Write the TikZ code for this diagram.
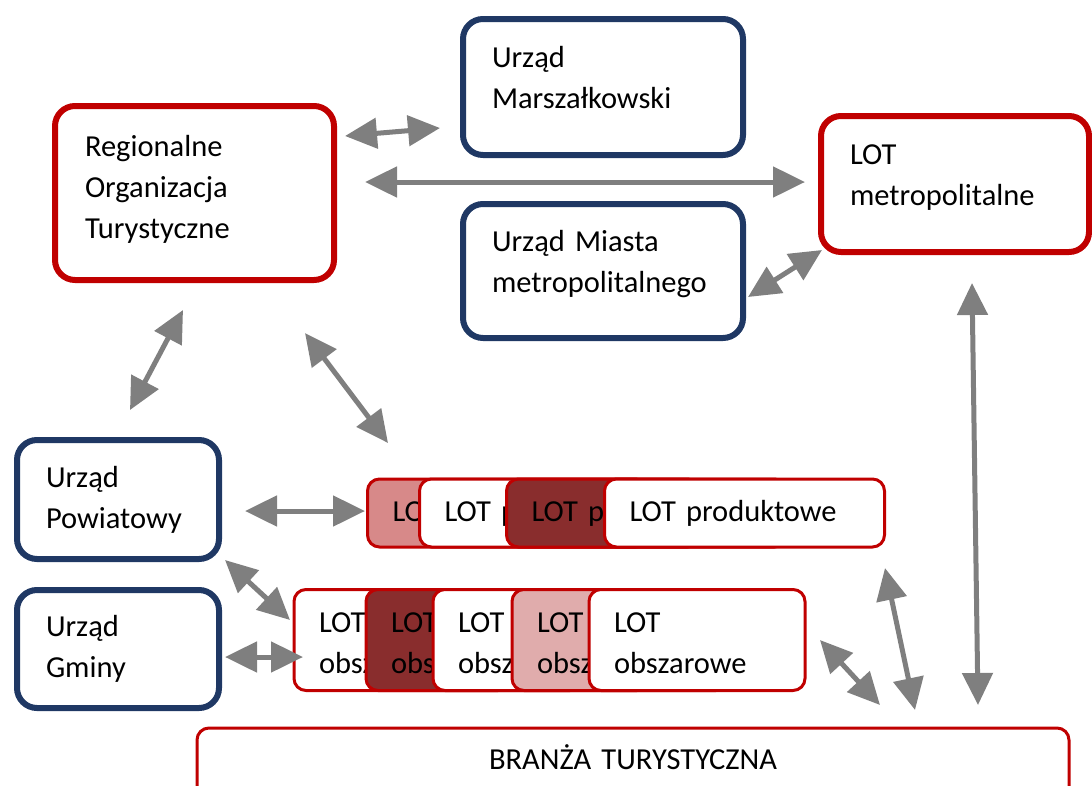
\documentclass[tikz,border=0pt]{standalone}
\usepackage{fontspec}
\setmainfont{Carlito}
\usetikzlibrary{arrows.meta}
\definecolor{ramka}{RGB}{192,0,0}
\definecolor{granat}{RGB}{31,56,100}
\definecolor{szary}{RGB}{127,127,127}
\definecolor{roz}{RGB}{215,137,137}
\definecolor{jroz}{RGB}{224,172,172}
\definecolor{bordo}{RGB}{137,45,45}
\tikzset{
  box/.style={draw, rounded corners=20pt, line width=6pt, fill=white, inner xsep=29pt, inner ysep=0pt, align=left, font=\fontsize{30.5}{41}\selectfont},
  urzad/.style={box, draw=granat},
  lot/.style={box, draw=ramka},
  lotmaly/.style={box, draw=ramka, line width=3pt, rounded corners=12pt, inner xsep=25pt},
  link/.style={draw=szary, line width=5pt, {Triangle[length=32pt,width=30pt]}-{Triangle[length=32pt,width=30pt]}}
}
\begin{document}
\begin{tikzpicture}[x=1pt,y=-1pt]
    \clip (0,0) rectangle (1092,785);
    \node[lot, minimum width=279pt, minimum height=174pt, text width=219pt, text depth=94pt] (rot) at (194.5,193) {Regionalne\\Organizacja\\Turystyczne};
    \node[urzad, minimum width=280pt, minimum height=136pt, text width=222pt, text depth=61pt] (marsz) at (603,87) {Urząd\\Marszałkowski};
    \node[lot, minimum width=268pt, minimum height=136pt, text width=210pt, text depth=59pt] (lotmet) at (955,184) {LOT\\metropolitalne};
    \node[urzad, minimum width=280pt, minimum height=134pt, text width=222pt, text depth=61pt] (miasto) at (603,271) {Urząd Miasta\\metropolitalnego};
    \node[urzad, minimum width=202pt, minimum height=119pt, text width=144pt] (powiat) at (118,499.5) {Urząd\\Powiatowy};
    \node[urzad, minimum width=202pt, minimum height=118pt, text width=144pt] (gmina) at (118,649) {Urząd\\Gminy};

    \node[lotmaly, fill=roz, minimum width=280pt, minimum height=68pt, text width=230pt] (prodA) at (507.5,513) {LOT produktowe};
    \node[lotmaly, minimum width=280pt, minimum height=68pt, text width=230pt] (prodB) at (559.5,513) {LOT produktowe};
    \node[lotmaly, fill=bordo, minimum width=280pt, minimum height=68pt, text width=230pt] (prodC) at (646.5,513) {LOT produktowe};
    \node[lotmaly, minimum width=280pt, minimum height=68pt, text width=230pt] (prodD) at (744.5,513) {LOT produktowe};

    \node[lotmaly, minimum width=216pt, minimum height=101pt, text width=166pt, text height=26pt] (obszA) at (402,640) {LOT\\obszarowe};
    \node[lotmaly, fill=bordo, minimum width=216pt, minimum height=101pt, text width=166pt, text height=26pt] (obszB) at (474,640) {LOT\\obszarowe};
    \node[lotmaly, minimum width=216pt, minimum height=101pt, text width=166pt, text height=26pt] (obszC) at (541,640) {LOT\\obszarowe};
    \node[lotmaly, fill=jroz, minimum width=216pt, minimum height=101pt, text width=166pt, text height=26pt] (obszD) at (620,640) {LOT\\obszarowe};
    \node[lotmaly, minimum width=216pt, minimum height=101pt, text width=166pt, text height=26pt] (obszE) at (697,640) {LOT\\obszarowe};

    \node[lotmaly, align=center, minimum width=872pt, minimum height=72pt, text width=822pt, text depth=13pt] (branza) at (633,764) {BRANŻA TURYSTYCZNA};

    \draw[link] ([shift={(8,-57)}]rot.east) -- ([shift={(-20,41)}]marsz.west);
    \draw[link] ([shift={(28,-11)}]rot.east) -- ([shift={(-13,-2)}]lotmet.west);
    \draw[link] ([shift={(2,26)}]miasto.east) -- ([shift={(4,-5)}]lotmet.south west);
    \draw[link] ([shift={(17,28)}]lotmet.south) -- ([shift={(345,-21.5)}]branza.north);
    \draw[link] ([shift={(-11.5,27)}]rot.south) -- ([shift={(12,-27)}]powiat.north);
    \draw[link] ([shift={(-32,50)}]rot.south east) -- ([shift={(22,-34.5)}]prodA.north west);
    \draw[link] ([shift={(23,11.5)}]powiat.east) -- ([shift={(-1,-2)}]prodA.west);
    \draw[link] ([shift={(3,-2)}]powiat.south east) -- ([shift={(-2.5,-20)}]obszA.west);
    \draw[link] ([shift={(3,8)}]gmina.east) -- ([shift={(10.5,17)}]obszA.west);
    \draw[link] ([shift={(13.5,0)}]obszE.east) -- ([shift={(247,-21.5)}]branza.north);
    \draw[link] ([shift={(-1,19.5)}]prodD.south east) -- ([shift={(282,-16.5)}]branza.north);
\end{tikzpicture}
\end{document}
